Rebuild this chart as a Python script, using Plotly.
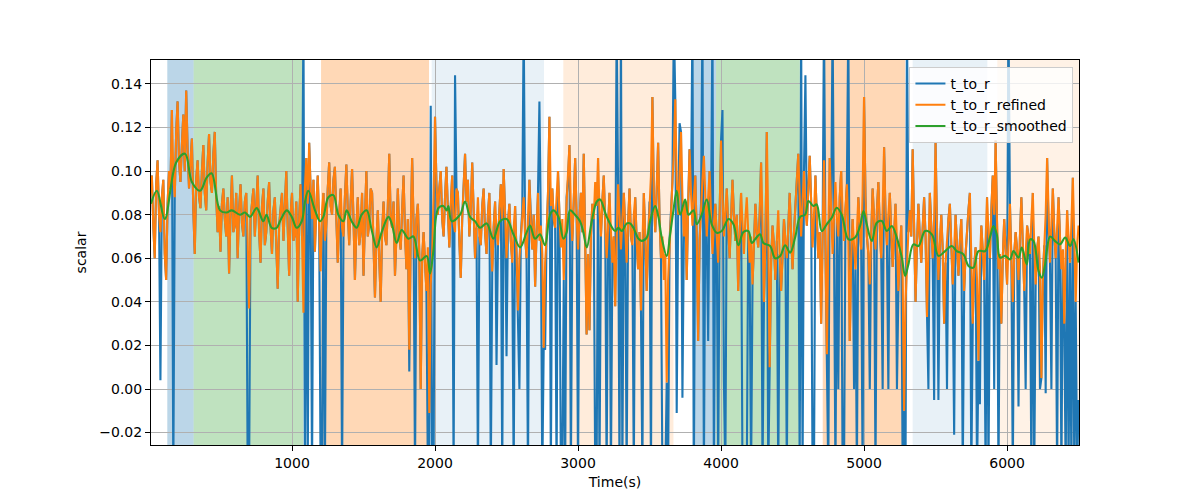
import plotly.graph_objects as go

# ---------------- data ----------------
time_s = list(range(10, 6501, 10))

t_to_r_refined = [
    0.090, 0.098, 0.075, 0.060, 0.094, 0.105, 0.080, 0.072, 0.088, 0.096,
    0.062, 0.050, 0.085, 0.100, 0.092, 0.128, 0.098, 0.088, 0.118, 0.132,
    0.104, 0.095, 0.112, 0.126, 0.100, 0.137, 0.110, 0.092, 0.104, 0.115,
    0.082, 0.062, 0.096, 0.105, 0.088, 0.083, 0.100, 0.112, 0.090, 0.082,
    0.104, 0.117, 0.095, 0.090, 0.108, 0.118, 0.088, 0.072, 0.084, 0.063,
    0.085, 0.092, 0.078, 0.070, 0.088, 0.053, 0.080, 0.098, 0.072, 0.075,
    0.090, 0.060, 0.082, 0.094, 0.076, 0.070, 0.086, 0.090, 0.068, 0.037,
    0.078, 0.085, 0.092, 0.070, 0.084, 0.098, 0.072, 0.058, 0.084, 0.092,
    0.066, 0.072, 0.086, 0.095, 0.074, 0.062, 0.082, 0.088, 0.066, 0.046,
    0.075, 0.082, 0.090, 0.068, 0.086, 0.100, 0.074, 0.052, 0.080, 0.090,
    0.068, 0.071, 0.086, 0.040, 0.078, 0.094, 0.070, 0.035, 0.092, 0.106,
    0.085, 0.113, 0.092, 0.078, 0.096, 0.063, 0.084, 0.098, 0.075, 0.054,
    0.082, 0.090, 0.068, 0.075, 0.092, 0.104, 0.084, 0.080, 0.096, 0.102,
    0.078, 0.058, 0.080, 0.092, 0.074, 0.070, 0.088, 0.103, 0.082, 0.066,
    0.086, 0.101, 0.078, 0.050, 0.074, 0.088, 0.066, 0.072, 0.090, 0.052,
    0.078, 0.100, 0.070, 0.076, 0.092, 0.090, 0.066, 0.042, 0.068, 0.082,
    0.060, 0.040, 0.072, 0.086, 0.070, 0.066, 0.084, 0.108, 0.078, 0.074,
    0.086, 0.052, 0.070, 0.092, 0.070, 0.064, 0.082, 0.098, 0.072, 0.055,
    0.078, 0.018, 0.072, 0.106, 0.076, 0.060, 0.078, 0.085, 0.062, 0.000,
    0.060, 0.072, 0.058, 0.045, 0.065, -0.011, 0.048, 0.062, 0.088, 0.125,
    0.094, 0.080, 0.092, 0.100, 0.078, 0.070, 0.088, 0.102, 0.082, 0.065,
    0.084, 0.098, 0.076, 0.072, 0.092, 0.090, 0.068, 0.051, 0.078, 0.095,
    0.108, 0.086, 0.096, 0.070, 0.082, 0.104, 0.078, 0.060, 0.074, 0.088,
    0.070, 0.066, 0.084, 0.092, 0.072, 0.062, 0.080, 0.090, 0.070, 0.054,
    0.074, 0.086, 0.072, 0.066, 0.082, 0.094, 0.078, 0.101, 0.080, 0.060,
    0.076, 0.085, 0.068, 0.058, 0.074, 0.084, 0.062, 0.036, 0.060, 0.070,
    0.082, 0.088, 0.070, 0.060, 0.078, 0.096, 0.076, 0.064, 0.080, 0.047,
    0.072, 0.090, 0.068, 0.075, 0.062, 0.019, 0.058, 0.070, 0.090, 0.125,
    0.084, 0.092, 0.078, 0.074, 0.088, 0.100, 0.080, 0.065, 0.078, 0.050,
    0.072, 0.088, 0.096, 0.112, 0.082, 0.068, 0.086, 0.106, 0.080, 0.064,
    0.078, 0.090, 0.072, 0.108, 0.068, 0.025, 0.062, 0.027, 0.070, 0.085,
    0.078, 0.095, 0.084, 0.106, 0.082, 0.070, 0.086, 0.098, 0.076, 0.060,
    0.074, 0.090, 0.072, 0.058, 0.070, 0.038, 0.068, 0.094, 0.080, 0.064,
    0.078, 0.090, 0.074, 0.058, 0.076, 0.092, 0.070, 0.066, 0.080, 0.088,
    0.068, 0.055, 0.072, 0.036, 0.066, 0.090, 0.070, 0.045, 0.068, 0.086,
    0.098, 0.134, 0.088, 0.072, 0.090, 0.113, 0.078, 0.060, 0.070, 0.050,
    0.062, 0.003, 0.050, 0.068, 0.082, 0.095, 0.108, 0.133, 0.096, 0.080,
    0.098, 0.118, 0.088, 0.070, 0.086, 0.050, 0.084, 0.110, 0.090, 0.075,
    0.088, 0.098, 0.070, 0.022, 0.068, 0.085, 0.096, 0.107, 0.084, 0.070,
    0.088, 0.100, 0.080, 0.062, 0.076, 0.085, 0.070, 0.058, 0.080, 0.114,
    0.088, 0.070, 0.082, 0.092, 0.074, 0.060, 0.078, 0.096, 0.080, 0.068,
    0.080, 0.045, 0.070, 0.090, 0.076, 0.062, 0.078, 0.088, 0.072, 0.058,
    0.070, 0.048, 0.066, 0.085, 0.072, 0.065, 0.080, 0.104, 0.076, 0.040,
    0.066, 0.118, 0.074, 0.010, 0.058, 0.075, 0.066, 0.050, 0.068, 0.082,
    0.062, 0.045, 0.060, 0.078, 0.068, 0.060, 0.074, 0.090, 0.070, 0.055,
    0.072, 0.085, 0.096, 0.108, 0.088, 0.070, 0.086, 0.100, 0.082, 0.075,
    0.092, 0.107, 0.086, 0.065, 0.080, 0.098, 0.078, 0.060, 0.072, 0.030,
    0.070, 0.105, 0.066, 0.016, 0.070, 0.106, 0.082, 0.062, 0.080, 0.095,
    0.078, 0.070, 0.088, 0.100, 0.080, 0.068, 0.082, 0.094, 0.070, 0.022,
    0.060, 0.078, 0.066, 0.055, 0.072, 0.088, 0.074, 0.064, 0.090, 0.134,
    0.088, 0.070, 0.062, 0.048, 0.070, 0.092, 0.078, 0.064, 0.082, 0.095,
    0.074, 0.060, 0.082, 0.111, 0.080, 0.066, 0.080, 0.090, 0.072, 0.056,
    0.070, 0.085, 0.068, 0.045, 0.062, 0.075, 0.050, -0.010, 0.040, 0.060,
    0.072, 0.082, 0.070, 0.110, 0.074, 0.040, 0.066, 0.085, 0.070, 0.058,
    0.074, 0.088, 0.070, 0.033, 0.064, 0.090, 0.074, 0.060, 0.078, 0.113,
    0.074, 0.050, 0.066, 0.080, 0.064, 0.030, 0.058, 0.070, 0.078, 0.085,
    0.066, 0.048, 0.064, 0.080, 0.066, 0.052, 0.068, 0.078, 0.060, 0.045,
    0.062, 0.075, 0.082, 0.090, 0.064, 0.030, 0.056, 0.065, 0.050, 0.013,
    0.058, 0.075, 0.064, 0.050, 0.068, 0.088, 0.072, 0.060, 0.082, 0.098,
    0.080, 0.114, 0.076, 0.055, 0.062, 0.030, 0.060, 0.078, 0.064, 0.048,
    0.066, 0.085, 0.060, 0.040, 0.062, 0.072, 0.064, 0.050, 0.070, 0.088,
    0.066, 0.045, 0.062, 0.075, 0.070, 0.062, 0.078, 0.090, 0.066, 0.048,
    0.064, 0.070, 0.056, 0.005, 0.050, 0.066, 0.080, 0.106, 0.074, 0.058,
    0.076, 0.092, 0.072, 0.060, 0.074, 0.088, 0.070, 0.055, 0.064, 0.030,
    0.062, 0.082, 0.070, 0.058, 0.076, 0.097, 0.068, 0.040, 0.066, 0.075,
]

t_to_r = [
    0.090, 0.098, 0.075, 0.060, 0.094, 0.105, 0.080, 0.004, 0.088, 0.096,
    0.062, 0.050, 0.085, 0.100, 0.092, 0.128, -0.040, 0.088, 0.118, 0.132,
    0.104, 0.095, 0.112, 0.126, 0.100, 0.137, 0.110, 0.092, 0.104, 0.115,
    0.082, 0.062, 0.096, 0.105, 0.088, 0.083, 0.100, 0.112, 0.090, 0.082,
    0.104, 0.117, 0.095, 0.090, 0.108, 0.118, 0.088, 0.072, 0.084, 0.063,
    0.085, 0.092, 0.078, 0.070, 0.088, 0.053, 0.080, 0.098, 0.072, 0.075,
    0.090, 0.060, 0.082, 0.094, 0.076, 0.070, 0.086, 0.090, -0.040, -0.040,
    0.078, 0.085, 0.092, 0.070, 0.084, 0.098, 0.072, 0.058, 0.084, 0.092,
    0.066, 0.072, 0.086, 0.095, 0.074, 0.062, 0.082, 0.088, 0.066, 0.046,
    0.075, 0.082, 0.090, 0.068, 0.086, 0.100, 0.074, 0.052, 0.080, 0.090,
    0.068, 0.071, 0.086, 0.040, 0.078, 0.094, 0.070, 0.170, -0.040, 0.106,
    -0.040, 0.113, 0.092, -0.040, 0.096, 0.063, 0.084, 0.098, 0.075, -0.040,
    -0.040, 0.090, -0.040, 0.075, 0.092, 0.104, 0.084, 0.080, 0.096, 0.102,
    0.078, 0.058, 0.080, 0.092, -0.040, 0.070, 0.088, 0.103, 0.082, 0.066,
    0.086, 0.101, 0.078, 0.050, 0.074, 0.088, 0.066, 0.072, 0.090, 0.052,
    0.078, 0.100, 0.070, 0.076, 0.092, 0.090, 0.066, 0.042, 0.068, 0.082,
    0.060, 0.040, 0.072, 0.086, 0.070, 0.066, 0.084, 0.108, 0.078, 0.074,
    0.086, 0.052, 0.070, 0.092, 0.070, 0.064, 0.082, 0.098, 0.072, 0.055,
    0.078, 0.008, 0.072, 0.106, 0.076, -0.040, 0.078, 0.085, 0.062, 0.000,
    0.060, 0.072, 0.058, 0.045, -0.040, -0.040, 0.130, -0.040, -0.040, 0.125,
    0.094, 0.080, 0.092, 0.100, 0.078, 0.070, 0.088, 0.102, 0.082, 0.065,
    0.084, 0.098, -0.040, 0.144, 0.092, 0.090, 0.068, 0.051, 0.078, 0.095,
    0.108, 0.086, 0.096, 0.070, 0.082, 0.104, 0.078, 0.060, 0.074, -0.040,
    0.070, 0.066, 0.084, 0.092, 0.072, 0.062, 0.080, 0.090, -0.040, 0.054,
    0.074, 0.086, 0.011, 0.066, 0.082, 0.094, -0.040, 0.101, 0.080, 0.015,
    0.076, 0.085, 0.068, 0.058, -0.040, 0.084, 0.062, 0.036, 0.000, 0.070,
    0.082, 0.170, 0.070, 0.060, -0.040, 0.096, 0.076, 0.064, 0.080, 0.047,
    0.072, 0.090, 0.132, 0.075, -0.040, 0.019, 0.018, 0.070, 0.090, 0.125,
    -0.040, 0.092, 0.078, 0.074, -0.040, 0.100, 0.080, -0.040, -0.040, 0.050,
    -0.040, 0.088, 0.096, 0.112, -0.040, 0.068, 0.086, 0.106, 0.080, -0.040,
    0.078, 0.090, 0.072, 0.108, 0.068, 0.025, 0.062, 0.027, 0.070, 0.085,
    0.078, -0.040, -0.040, 0.106, -0.040, 0.070, 0.086, 0.098, 0.076, -0.040,
    0.074, 0.090, -0.040, 0.058, 0.070, 0.038, 0.170, 0.094, -0.040, 0.170,
    -0.040, 0.090, 0.074, -0.040, 0.076, 0.092, 0.070, 0.066, -0.040, 0.088,
    0.068, 0.055, 0.072, 0.036, -0.040, 0.090, 0.070, 0.045, 0.068, 0.086,
    -0.040, 0.134, 0.088, 0.072, 0.090, 0.113, 0.078, 0.060, -0.040, -0.040,
    -0.040, 0.003, -0.040, 0.068, 0.082, 0.095, 0.170, 0.133, -0.011, 0.080,
    0.122, 0.118, -0.004, 0.070, 0.086, 0.050, 0.084, 0.110, 0.090, 0.170,
    -0.040, 0.098, 0.070, 0.022, 0.068, 0.085, 0.170, -0.040, 0.084, 0.070,
    0.022, 0.100, 0.080, 0.170, -0.040, 0.085, 0.070, -0.040, 0.080, 0.114,
    0.128, 0.004, -0.040, 0.092, 0.074, 0.060, 0.078, 0.096, 0.080, 0.068,
    0.080, 0.045, 0.070, 0.090, -0.040, -0.040, -0.040, -0.040, 0.072, 0.058,
    -0.040, 0.048, 0.066, 0.085, 0.072, 0.065, 0.080, 0.104, -0.040, 0.040,
    0.066, 0.118, -0.040, 0.010, 0.058, 0.075, 0.066, 0.050, 0.068, -0.040,
    0.062, 0.045, 0.060, 0.078, 0.068, -0.040, 0.074, 0.090, 0.070, 0.055,
    0.072, 0.085, 0.096, 0.108, -0.040, 0.170, -0.040, 0.100, 0.144, 0.075,
    0.092, 0.107, 0.086, -0.040, -0.040, 0.098, 0.078, 0.060, 0.072, 0.030,
    0.070, 0.170, 0.066, 0.016, -0.040, 0.106, 0.082, 0.170, 0.080, -0.040,
    0.078, 0.000, 0.088, 0.100, -0.040, -0.040, 0.082, 0.094, 0.170, 0.022,
    0.060, 0.078, 0.000, 0.055, -0.040, 0.088, 0.074, 0.064, -0.040, 0.134,
    0.088, 0.070, 0.062, 0.000, 0.070, 0.092, 0.078, -0.040, 0.082, 0.095,
    0.074, 0.060, 0.000, 0.111, 0.080, 0.066, 0.000, 0.090, 0.072, 0.056,
    0.070, 0.085, 0.000, 0.045, 0.062, 0.075, -0.040, -0.010, -0.040, 0.170,
    0.072, 0.082, 0.070, 0.110, 0.074, 0.040, 0.066, 0.085, 0.070, 0.058,
    0.074, 0.088, 0.070, 0.033, 0.000, 0.090, 0.074, 0.060, -0.005, 0.113,
    0.074, -0.005, 0.066, 0.080, 0.064, 0.030, 0.058, 0.000, 0.078, 0.085,
    0.066, 0.048, -0.021, 0.080, 0.066, 0.052, 0.068, 0.078, -0.040, 0.045,
    0.062, 0.075, 0.082, 0.090, -0.040, 0.030, 0.056, 0.065, -0.040, 0.013,
    -0.007, 0.075, 0.064, 0.050, -0.040, 0.088, -0.040, 0.060, 0.082, 0.098,
    0.000, 0.114, 0.076, -0.040, 0.062, 0.030, 0.060, 0.078, 0.064, 0.048,
    0.170, 0.085, 0.060, -0.040, 0.062, 0.072, 0.064, -0.008, 0.070, 0.088,
    0.066, 0.045, 0.000, 0.075, 0.070, 0.062, -0.040, 0.090, -0.040, 0.048,
    0.064, 0.070, 0.000, 0.005, 0.050, 0.066, -0.002, 0.106, 0.074, 0.058,
    0.000, 0.092, 0.072, 0.060, -0.040, 0.088, 0.070, -0.040, 0.064, 0.030,
    -0.040, 0.082, -0.040, 0.058, -0.040, 0.097, -0.040, 0.040, -0.040, -0.005,
]

smooth_t = [
    14, 55, 110, 190, 252, 300, 357, 403, 438, 497, 543, 578, 636, 671, 706,
    753, 799, 822, 858, 893, 916, 963, 998, 1033, 1068, 1091, 1114, 1161, 1196,
    1219, 1254, 1289, 1324, 1359, 1382, 1417, 1452, 1487, 1522, 1557, 1592, 1627,
    1674, 1697, 1732, 1767, 1814, 1849, 1895, 1942, 1965, 1988, 2023, 2058, 2081,
    2093, 2117, 2175, 2210, 2245, 2280, 2315, 2361, 2408, 2455, 2501, 2548, 2595,
    2641, 2665, 2699, 2734, 2769, 2804, 2828, 2863, 2898, 2921, 2944, 2979, 3014,
    3037, 3061, 3096, 3131, 3154, 3201, 3259, 3282, 3306, 3341, 3364, 3387, 3422,
    3445, 3480, 3504, 3539, 3562, 3585, 3620, 3644, 3667, 3690, 3714, 3749, 3772,
    3807, 3830, 3865, 3900, 3935, 3970, 4005, 4052, 4087, 4121, 4156, 4191, 4215,
    4238, 4273, 4296, 4343, 4378, 4413, 4448, 4483, 4518, 4553, 4588, 4611, 4646,
    4669, 4704, 4739, 4774, 4809, 4844, 4891, 4937, 4972, 4996, 5019, 5054, 5089,
    5124, 5159, 5194, 5229, 5264, 5287, 5310, 5345, 5380, 5427, 5474, 5520, 5567,
    5613, 5648, 5695, 5730, 5765, 5800, 5847, 5882, 5905, 5928, 5951, 5986, 6021,
    6045, 6080, 6103, 6138, 6161, 6185, 6220, 6243, 6266, 6301, 6336, 6371, 6406,
    6441, 6464, 6500,
]
t_to_r_smoothed = [
    0.085, 0.091, 0.078, 0.104, 0.108, 0.095, 0.091, 0.097, 0.099, 0.082, 0.081, 0.082, 0.080, 0.081, 0.079,
    0.083, 0.077, 0.080, 0.074, 0.074, 0.077, 0.082, 0.079, 0.074, 0.077, 0.086, 0.091, 0.082, 0.077,
    0.079, 0.088, 0.089, 0.080, 0.077, 0.082, 0.077, 0.074, 0.080, 0.082, 0.073, 0.065, 0.072,
    0.079, 0.076, 0.067, 0.073, 0.069, 0.070, 0.059, 0.061, 0.053, 0.063, 0.083, 0.084, 0.082,
    0.084, 0.077, 0.080, 0.086, 0.079, 0.077, 0.074, 0.076, 0.069, 0.077, 0.078, 0.071, 0.065,
    0.072, 0.075, 0.069, 0.071, 0.066, 0.080, 0.082, 0.079, 0.069, 0.072, 0.082, 0.080, 0.077,
    0.072, 0.065, 0.077, 0.086, 0.087, 0.079, 0.0725, 0.074, 0.0725, 0.076, 0.076, 0.074, 0.069,
    0.068, 0.0695, 0.077, 0.084, 0.079, 0.0695, 0.061, 0.071, 0.082, 0.091, 0.080, 0.087, 0.080,
    0.082, 0.0756, 0.080, 0.087, 0.0756, 0.0717, 0.0725, 0.078, 0.0756, 0.066, 0.072, 0.0725, 0.067,
    0.0687, 0.071, 0.067, 0.0656, 0.060, 0.061, 0.066, 0.0626, 0.0695, 0.079, 0.080, 0.0863, 0.084,
    0.0847, 0.0725, 0.0756, 0.0786, 0.0832, 0.080, 0.0687, 0.0695, 0.0748, 0.0817, 0.0756, 0.0679, 0.0763,
    0.0771, 0.0725, 0.0748, 0.0695, 0.0603, 0.0519, 0.0572, 0.0664, 0.0656, 0.0725, 0.071, 0.0611, 0.0633,
    0.0656, 0.0633, 0.0618, 0.0565, 0.0557, 0.0633, 0.0633, 0.070, 0.0748, 0.071, 0.0603, 0.0611, 0.0595,
    0.0633, 0.0603, 0.0649, 0.0572, 0.0687, 0.0679, 0.0542, 0.0511, 0.0572, 0.070, 0.0679, 0.0664, 0.0695,
    0.0656, 0.0687, 0.058,
]

# shaded phases: start, end, colour, opacity
span_start = [128, 312, 1203, 1977, 2897, 3800, 3965, 4711, 5340, 5932]
span_end = [312, 1079, 1958, 2762, 3667, 3965, 4551, 5287, 5862, 6503]
span_color = ["#1f77b4", "#2ca02c", "#ff7f0e", "#1f77b4", "#ff7f0e",
              "#1f77b4", "#2ca02c", "#ff7f0e", "#1f77b4", "#ff7f0e"]
span_alpha = [0.3, 0.3, 0.3, 0.1, 0.15, 0.3, 0.3, 0.3, 0.1, 0.1]

y_ticks = [-0.02, 0.00, 0.02, 0.04, 0.06, 0.08, 0.10, 0.12, 0.14]
x_ticks = [1000, 2000, 3000, 4000, 5000, 6000]

# ---------------- figure ----------------
fig = go.Figure()

fig.add_trace(go.Scatter(x=time_s, y=t_to_r, mode="lines", name="t_to_r",
                         line=dict(color="#1f77b4", width=2.1)))
fig.add_trace(go.Scatter(x=time_s, y=t_to_r_refined, mode="lines", name="t_to_r_refined",
                         line=dict(color="#ff7f0e", width=2.1)))
fig.add_trace(go.Scatter(x=smooth_t, y=t_to_r_smoothed, mode="lines", name="t_to_r_smoothed",
                         line=dict(color="#2ca02c", width=2.1, shape="spline", smoothing=1.0)))

for s, e, c, a in zip(span_start, span_end, span_color, span_alpha):
    fig.add_shape(type="rect", xref="x", yref="paper", x0=s, x1=e, y0=0, y1=1,
                  fillcolor=c, opacity=a, line_width=0, layer="below")

font = dict(family="DejaVu Sans", size=14, color="black")
axis_common = dict(showline=True, linecolor="black", linewidth=1.1, mirror=True,
                   showgrid=True, gridcolor="#b0b0b0", gridwidth=1.1,
                   ticks="outside", ticklen=5, tickwidth=1.1, tickcolor="black",
                   zeroline=False, tickfont=font)

fig.update_layout(
    width=1200, height=500,
    margin=dict(l=143, r=129, t=52, b=63),
    paper_bgcolor="white", plot_bgcolor="white",
    font=font,
    showlegend=True,
    legend=dict(x=0.994, y=0.982, xanchor="right", yanchor="top",
                bgcolor="rgba(255,255,255,0.8)", bordercolor="#cccccc", borderwidth=1,
                font=font, tracegroupgap=0),
)
fig.update_xaxes(range=[14, 6503], tickvals=x_ticks, ticktext=[str(v) for v in x_ticks],
                 title=dict(text="Time(s)", font=font, standoff=7), **axis_common)
fig.update_yaxes(range=[-0.0257, 0.151], tickvals=y_ticks, tickformat=".2f",
                 title=dict(text="scalar", font=font, standoff=9), **axis_common)

fig.write_html("out.html")
